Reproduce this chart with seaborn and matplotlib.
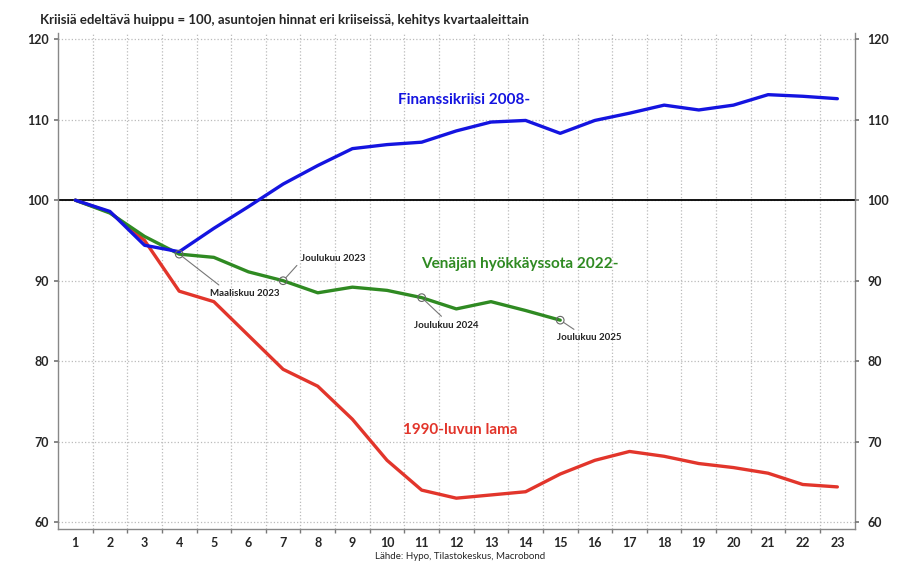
import matplotlib
matplotlib.use("Agg")
import matplotlib.pyplot as plt
import seaborn as sns
import numpy as np
import pandas as pd

# Quarters since pre-crisis peak
quarters = list(range(1, 24))

finance_2008 = [100.0, 98.6, 94.4, 93.6, 96.5, 99.2, 102.0, 104.3, 106.4, 106.9, 107.2,
                108.6, 109.7, 109.9, 108.3, 109.9, 110.8, 111.8, 111.2, 111.8, 113.1,
                112.9, 112.6]
recession_1990 = [100.0, 98.5, 95.0, 88.7, 87.4, 83.2, 79.0, 76.9, 72.8, 67.7, 64.0,
                  63.0, 63.4, 63.8, 66.0, 67.7, 68.8, 68.2, 67.3, 66.8, 66.1, 64.7, 64.4]
war_2022 = [100.0, 98.4, 95.5, 93.3, 92.9, 91.1, 90.0, 88.5, 89.2, 88.8, 87.9, 86.5,
            87.4, 86.3, 85.1]

series_names = ["Finanssikriisi 2008-", "1990-luvun lama", "Venäjän hyökkäyssota 2022-"]
series_colors = ["#1414e0", "#e2352b", "#2f8a22"]

# annotated points on the 2022 line: (quarter, label)
marked_quarters = [4, 7, 11, 15]
marked_labels = ["Maaliskuu 2023", "Joulukuu 2023", "Joulukuu 2024", "Joulukuu 2025"]

title = "Kriisiä edeltävä huippu = 100, asuntojen hinnat eri kriiseissä, kehitys kvartaaleittain"
source = "Lähde: Hypo, Tilastokeskus, Macrobond"

sns.set_theme(style="white")
plt.rcParams["font.family"] = ["Lato", "DejaVu Sans"]

df = pd.concat([
    pd.DataFrame({"q": quarters, "v": finance_2008, "s": series_names[0]}),
    pd.DataFrame({"q": quarters, "v": recession_1990, "s": series_names[1]}),
    pd.DataFrame({"q": quarters[:len(war_2022)], "v": war_2022, "s": series_names[2]}),
])

fig = plt.figure(figsize=(9.2, 5.83), dpi=100)
ax = fig.add_axes([0.063, 0.093, 0.866, 0.851])

ax.axhline(100, color="black", lw=1.3, zorder=2)

# draw in the z-order seen in the picture: red, green, blue on top
for name in [series_names[1], series_names[2], series_names[0]]:
    sns.lineplot(data=df[df["s"] == name], x="q", y="v", ax=ax,
                 color=series_colors[series_names.index(name)], lw=2.4,
                 legend=False, zorder=3)

ax.set_xlim(0.5, 23.5)
ax.set_ylim(59.2, 120.8)
ax.set_xticks(quarters)
ax.set_xticks(np.arange(1.5, 23.5, 1), minor=True)
ax.set_yticks(range(60, 121, 10))
ax.set_xlabel("")
ax.set_ylabel("")
ax.grid(False)
ax.grid(True, which="minor", axis="x", color="#bbbbbb", ls=":", lw=0.9)
ax.grid(True, which="major", axis="y", color="#bbbbbb", ls=":", lw=0.9)
ax.tick_params(axis="x", which="major", length=0, labelsize=9, pad=6)
ax.tick_params(axis="x", which="minor", length=3, color="#777777", bottom=True)
ax.tick_params(axis="y", length=3, color="#777777", labelsize=9, left=True)
for lbl in ax.get_xticklabels() + ax.get_yticklabels():
    lbl.set_fontweight("bold")

for side in ["left", "right", "bottom"]:
    ax.spines[side].set_color("#888888")
    ax.spines[side].set_linewidth(1.0)
ax.spines["top"].set_visible(False)

ax2 = ax.twinx()
ax2.set_ylim(ax.get_ylim())
ax2.set_yticks(range(60, 121, 10))
ax2.tick_params(axis="y", length=3, color="#777777", labelsize=9, right=True, pad=6)
for lbl in ax2.get_yticklabels():
    lbl.set_fontweight("bold")
for side in ["left", "right", "bottom", "top"]:
    ax2.spines[side].set_visible(False)

# series labels
ax.text(12.23, 112.4, series_names[0], color=series_colors[0], fontsize=11,
        fontweight="bold", ha="center", va="center")
ax.text(12.1, 71.5, series_names[1], color=series_colors[1], fontsize=11,
        fontweight="bold", ha="center", va="center")
ax.text(13.82, 92.1, series_names[2], color=series_colors[2], fontsize=11,
        fontweight="bold", ha="center", va="center")

# annotated points with leader lines
text_pos = [(5.9, 88.4), (8.45, 92.7), (11.7, 84.5), (15.85, 82.9)]
rel = [(0.2, 1.0), (0.0, 0.3), (0.5, 1.0), (0.35, 1.0)]
for q, lab, (tx, ty), rp in zip(marked_quarters, marked_labels, text_pos, rel):
    yv = war_2022[q - 1]
    ax.scatter([q], [yv], s=30, facecolors="none", edgecolors="#666666", lw=0.8, zorder=4)
    ax.annotate(lab, xy=(q, yv), xytext=(tx, ty), fontsize=7, fontweight="bold",
                ha="center", va="center", color="#222222",
                arrowprops=dict(arrowstyle="-", color="#777777", lw=0.8, relpos=rp,
                                shrinkA=1, shrinkB=3))

fig.text(0.043, 0.965, title, fontsize=9.5, fontweight="bold", ha="left", va="center")
fig.text(0.5, 0.045, source, fontsize=7, ha="center", va="center")

fig.savefig("out.png", dpi=100, facecolor="white")
